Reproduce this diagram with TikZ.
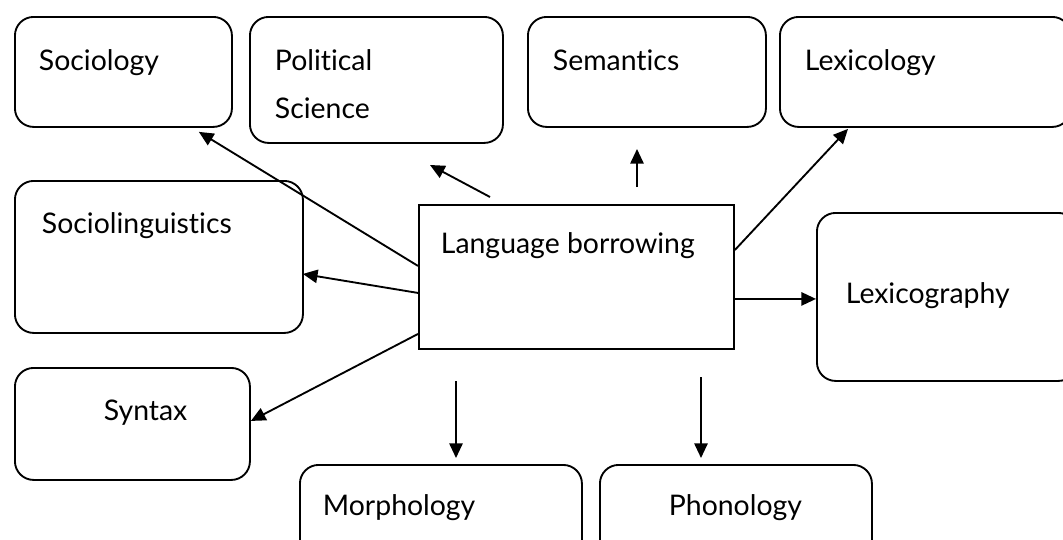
\documentclass[tikz,border=0pt]{standalone}
\usepackage{fontspec}
\setmainfont{Lato}[Ligatures=NoCommon]
\usetikzlibrary{arrows.meta,calc}
\tikzset{
  field/.style={draw,rounded corners=14pt,anchor=north west,inner sep=0pt},
  lbl/.style={anchor=base west,inner sep=0pt,font=\fontsize{21.3}{26}\selectfont},
  link/.style={-{Triangle[length=11pt,width=10pt]}}
}
\begin{document}
\begin{tikzpicture}[x=0.75pt,y=-0.75pt,line width=1.4pt]
        \useasboundingbox (0,0) rectangle (1063,539);
        \clip (0,0) rectangle (1063,539);
        % boxes round the centre
        \node [field,minimum width=162.75pt,minimum height=82.5pt] (soc) at (14,16) {};
        \node [field,minimum width=189.75pt,minimum height=94.5pt] (pol) at (249,16) {};
        \node [field,minimum width=178.5pt,minimum height=82.5pt] (sem) at (527,16) {};
        \node [field,minimum width=218.25pt,minimum height=82.5pt] (lexy) at (779,16) {};
        \node [field,minimum width=216pt,minimum height=114pt] (socl) at (14,180) {};
        \node [draw,anchor=north west,inner sep=0pt,minimum width=236.25pt,minimum height=108pt] (lb) at (418,204) {};
        \node [field,minimum width=195pt,minimum height=126pt] (lexg) at (816,212) {};
        \node [field,minimum width=176.25pt,minimum height=84pt] (syn) at (14,367) {};
        \node [field,minimum width=211.5pt,minimum height=90pt] (mor) at (299,464) {};
        \node [field,minimum width=204pt,minimum height=90pt] (pho) at (599,464) {};
        % texts
        \node [lbl] (socT) at (38,70) {Sociology};
        \node [lbl] (polT) at (274,70) {Political};
        \node [lbl] (polT2) at (274,118) {Science};
        \node [lbl] (semT) at (552,70) {Semantics};
        \node [lbl] (lexyT) at (804,70) {Lexicology};
        \node [lbl] (soclT) at (41,233) {Sociolinguistics};
        \node [lbl] (lbT) at (440,253) {Language borrowing};
        \node [lbl] (lexgT) at (845,303) {Lexicography};
        \node [lbl] (synT) at (103,420) {Syntax};
        \node [lbl] (morT) at (322,515) {Morphology};
        \node [lbl] (phoT) at (668,515) {Phonology};
        % free ends
        \coordinate (polA) at (490,197);
        \coordinate (polB) at (430,165);
        \coordinate (semA) at (637,187);
        \coordinate (semB) at (637,149);
        \coordinate (morA) at (456,381);
        \coordinate (morB) at (456,458);
        \coordinate (phoA) at (701,377);
        \coordinate (phoB) at (701,458);
        % arrows
        \draw [link] ($(lb.west)+(0,-11)$) -- ($(soc.south east)+(-34,4)$);
        \draw [link] (polA) -- (polB);
        \draw [link] (semA) -- (semB);
        \draw [link] ($(lb.north east)+(0,46)$) -- ($(lexy.south west)+(69,1)$);
        \draw [link] ($(lb.west)+(0,16)$) -- ($(socl.east)+(-1,17)$);
        \draw [link] ($(lb.west)+(0,57)$) -- ($(syn.east)+(0,-3)$);
        \draw [link] ($(lb.east)+(0,22)$) -- ($(lexg.west)+(0,2)$);
        \draw [link] (morA) -- (morB);
        \draw [link] (phoA) -- (phoB);
    \end{tikzpicture}
\end{document}
